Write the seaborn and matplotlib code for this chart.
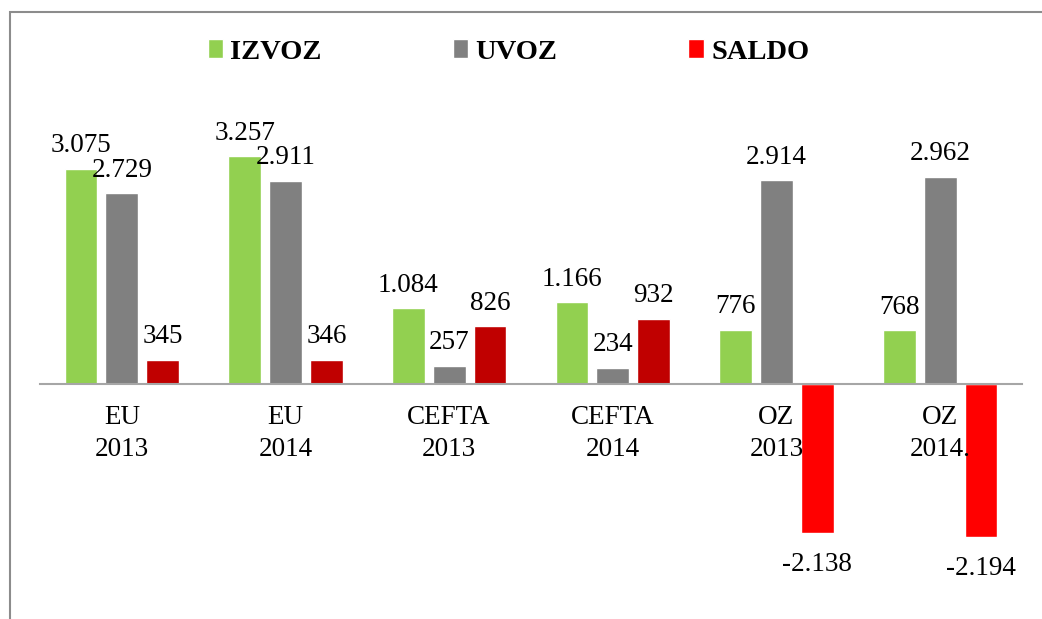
import numpy as np
import pandas as pd
import matplotlib
matplotlib.use("Agg")
import matplotlib.pyplot as plt
from matplotlib.patches import Patch, Rectangle
import seaborn as sns

# ================= DATA =================
categories = ["EU\n2013", "EU\n2014", "CEFTA\n2013", "CEFTA\n2014", "OZ\n2013", "OZ\n2014."]
izvoz = [3075, 3257, 1084, 1166, 776, 768]
uvoz = [2729, 2911, 257, 234, 2914, 2962]
saldo = [345, 346, 826, 932, -2138, -2194]
series = ["IZVOZ", "UVOZ", "SALDO"]

GREEN = "#92D050"
GRAY = "#808080"
DARK_RED = "#C00000"
RED = "#FF0000"

df = pd.DataFrame({
    "cat": categories * 3,
    "serija": np.repeat(series, len(categories)),
    "vrijednost": izvoz + uvoz + saldo,
})

# ================= STYLE =================
sns.set_style("white")
plt.rcParams["font.family"] = ["Liberation Serif", "DejaVu Serif"]
plt.rcParams["text.color"] = "black"
plt.rcParams["xtick.color"] = "black"

fig = plt.figure(figsize=(10.42, 6.19), dpi=100)
ax = fig.add_axes([0.0384, 0.0145, 0.9424, 0.8240])

sns.barplot(data=df, x="cat", y="vrijednost", hue="serija", hue_order=series,
            palette=[GREEN, GRAY, DARK_RED], width=0.75, gap=0.2,
            saturation=1, legend=False, ax=ax)

# saldo: dark red when positive, bright red when negative
for bar, v in zip(ax.containers[2], saldo):
    bar.set_facecolor(DARK_RED if v >= 0 else RED)

ax.set_xlim(-0.5, len(categories) - 0.5)
ax.set_ylim(-3233, 4063)

# ================= VALUE LABELS =================
def fmt(v):
    return f"{v:,}".replace(",", ".")

for cont, vals in zip(ax.containers, [izvoz, uvoz, saldo]):
    for bar, v in zip(cont, vals):
        xc = bar.get_x() + bar.get_width() / 2
        off = 12 if v >= 0 else -27
        ax.annotate(fmt(v), (xc, v), xytext=(0, off), textcoords="offset points",
                    ha="center", va="baseline", fontsize=19.5, color="black")

# ================= AXES =================
ax.set_axisbelow(False)  # category labels drawn over the negative bars
for s in ["top", "right", "left"]:
    ax.spines[s].set_visible(False)
ax.spines["bottom"].set_position(("data", 0))
ax.spines["bottom"].set_color("#A6A6A6")
ax.spines["bottom"].set_linewidth(1.5)
ax.set_yticks([])
ax.tick_params(axis="x", length=0, pad=15, labelsize=19.5)
for lbl in ax.get_xticklabels():
    lbl.set_linespacing(1.37)
ax.set_xlabel("")
ax.set_ylabel("")

# ================= LEGEND =================
handles = [Patch(facecolor=c) for c in [GREEN, GRAY, RED]]
fig.legend(handles, series, ncol=3, loc="center", bbox_to_anchor=(0.488, 0.916),
           frameon=False, prop={"weight": "bold", "size": 20.5},
           handlelength=0.55, handleheight=0.65, handletextpad=0.25, columnspacing=4.6)

# chart border
fig.patches.append(Rectangle((0.0096, -0.1), 1.2, 1.0806, transform=fig.transFigure,
                             fill=False, edgecolor="#8C8C8C", linewidth=1.5))

fig.savefig("out.png", dpi=100)
